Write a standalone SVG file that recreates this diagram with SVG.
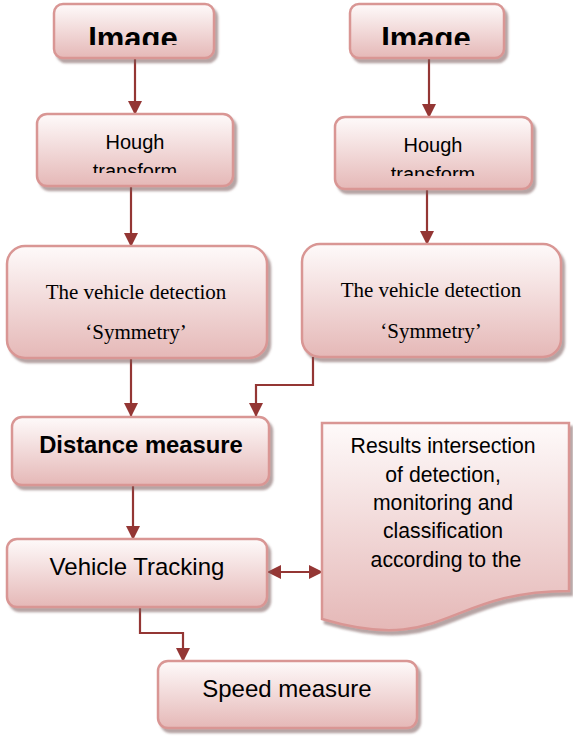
<svg xmlns="http://www.w3.org/2000/svg" width="573" height="738" viewBox="0 0 573 738">
<style>
.box{fill:url(#g);stroke:#d99694;stroke-width:2.5;filter:url(#sh)}
.con{fill:none;stroke:#943634;stroke-width:2.2}
.sans{font-family:"Liberation Sans",Arial,sans-serif;fill:#000;text-anchor:middle}
.serif{font-family:"Liberation Serif","Times New Roman",serif;fill:#000;text-anchor:middle}
</style>
<defs>
<linearGradient id="g" x1="0" y1="0" x2="0" y2="1">
<stop offset="0" stop-color="#fefafa"/>
<stop offset="1" stop-color="#e5b8b7"/>
</linearGradient>
<filter id="sh" x="-10%" y="-10%" width="130%" height="140%">
<feDropShadow dx="3" dy="4" stdDeviation="1" flood-color="#7a5a5a" flood-opacity="0.55"/>
</filter>
<marker id="ah" markerUnits="userSpaceOnUse" markerWidth="14" markerHeight="14" refX="13" refY="7" orient="auto-start-reverse">
<path d="M0,0 L14,7 L0,14 z" fill="#943634"/>
</marker>
<clipPath id="c1"><rect x="54" y="4" width="160" height="41"/></clipPath>
<clipPath id="c2"><rect x="350" y="4" width="154" height="41"/></clipPath>
<clipPath id="c3"><rect x="37" y="114" width="196" height="59"/></clipPath>
<clipPath id="c4"><rect x="335" y="117" width="197" height="59"/></clipPath>
</defs>

<g id="connectors">
<line class="con" x1="135" y1="58" x2="135" y2="114" marker-end="url(#ah)"/>
<line class="con" x1="429" y1="58" x2="429" y2="117" marker-end="url(#ah)"/>
<line class="con" x1="131" y1="186" x2="131" y2="246" marker-end="url(#ah)"/>
<line class="con" x1="427" y1="189" x2="427" y2="244" marker-end="url(#ah)"/>
<line class="con" x1="131" y1="358" x2="131" y2="416" marker-end="url(#ah)"/>
<polyline class="con" points="313,357 313,385 256,385 256,416" marker-end="url(#ah)"/>
<line class="con" x1="133" y1="485" x2="133" y2="539" marker-end="url(#ah)"/>
<line class="con" x1="268" y1="572" x2="322" y2="572" marker-start="url(#ah)" marker-end="url(#ah)"/>
<polyline class="con" points="140,607 140,633 183,633 183,661" marker-end="url(#ah)"/>
</g>

<g id="image1">
<rect class="box" x="54" y="4" width="160" height="54" rx="9"/>
<text class="sans" x="133" y="49" font-size="31" font-weight="bold" clip-path="url(#c1)">Image</text>
</g>
<g id="image2">
<rect class="box" x="350" y="4" width="154" height="54" rx="9"/>
<text class="sans" x="426" y="49" font-size="31" font-weight="bold" clip-path="url(#c2)">Image</text>
</g>

<g id="hough1">
<rect class="box" x="37" y="114" width="196" height="72" rx="10"/>
<g clip-path="url(#c3)">
<text class="sans" x="135" y="149" font-size="20">Hough</text>
<text class="sans" x="135" y="178" font-size="20">transform</text>
</g>
</g>
<g id="hough2">
<rect class="box" x="335" y="117" width="197" height="72" rx="10"/>
<g clip-path="url(#c4)">
<text class="sans" x="433" y="152" font-size="20">Hough</text>
<text class="sans" x="433" y="181" font-size="20">transform</text>
</g>
</g>

<g id="detect1">
<rect class="box" x="7" y="246" width="260" height="112" rx="18"/>
<text class="serif" x="136" y="299" font-size="21">The vehicle detection</text>
<text class="serif" x="136" y="339" font-size="21">‘Symmetry’</text>
</g>
<g id="detect2">
<rect class="box" x="302" y="244" width="259" height="113" rx="18"/>
<text class="serif" x="431" y="297" font-size="21">The vehicle detection</text>
<text class="serif" x="431" y="338" font-size="21">‘Symmetry’</text>
</g>

<g id="distance">
<rect class="box" x="12" y="417" width="257" height="68" rx="10"/>
<text class="sans" x="141" y="453" font-size="23.8" font-weight="bold">Distance measure</text>
</g>

<g id="results">
<path class="box" d="M322,423 H569 V591 C445.5,591 445.5,655.6 322,619 Z"/>
<text class="sans" font-size="21.2">
<tspan x="446" y="453">Results intersection</tspan>
<tspan x="446" y="482">of detection,</tspan>
<tspan x="446" y="510">monitoring and</tspan>
<tspan x="446" y="538">classification</tspan>
<tspan x="446" y="567">according to the</tspan>
</text>
</g>

<g id="tracking">
<rect class="box" x="7" y="539" width="260" height="68" rx="10"/>
<text class="sans" x="137" y="575" font-size="24">Vehicle Tracking</text>
</g>

<g id="speed">
<rect class="box" x="158" y="661" width="259" height="67" rx="10"/>
<text class="sans" x="287" y="697" font-size="24">Speed measure</text>
</g>
</svg>
